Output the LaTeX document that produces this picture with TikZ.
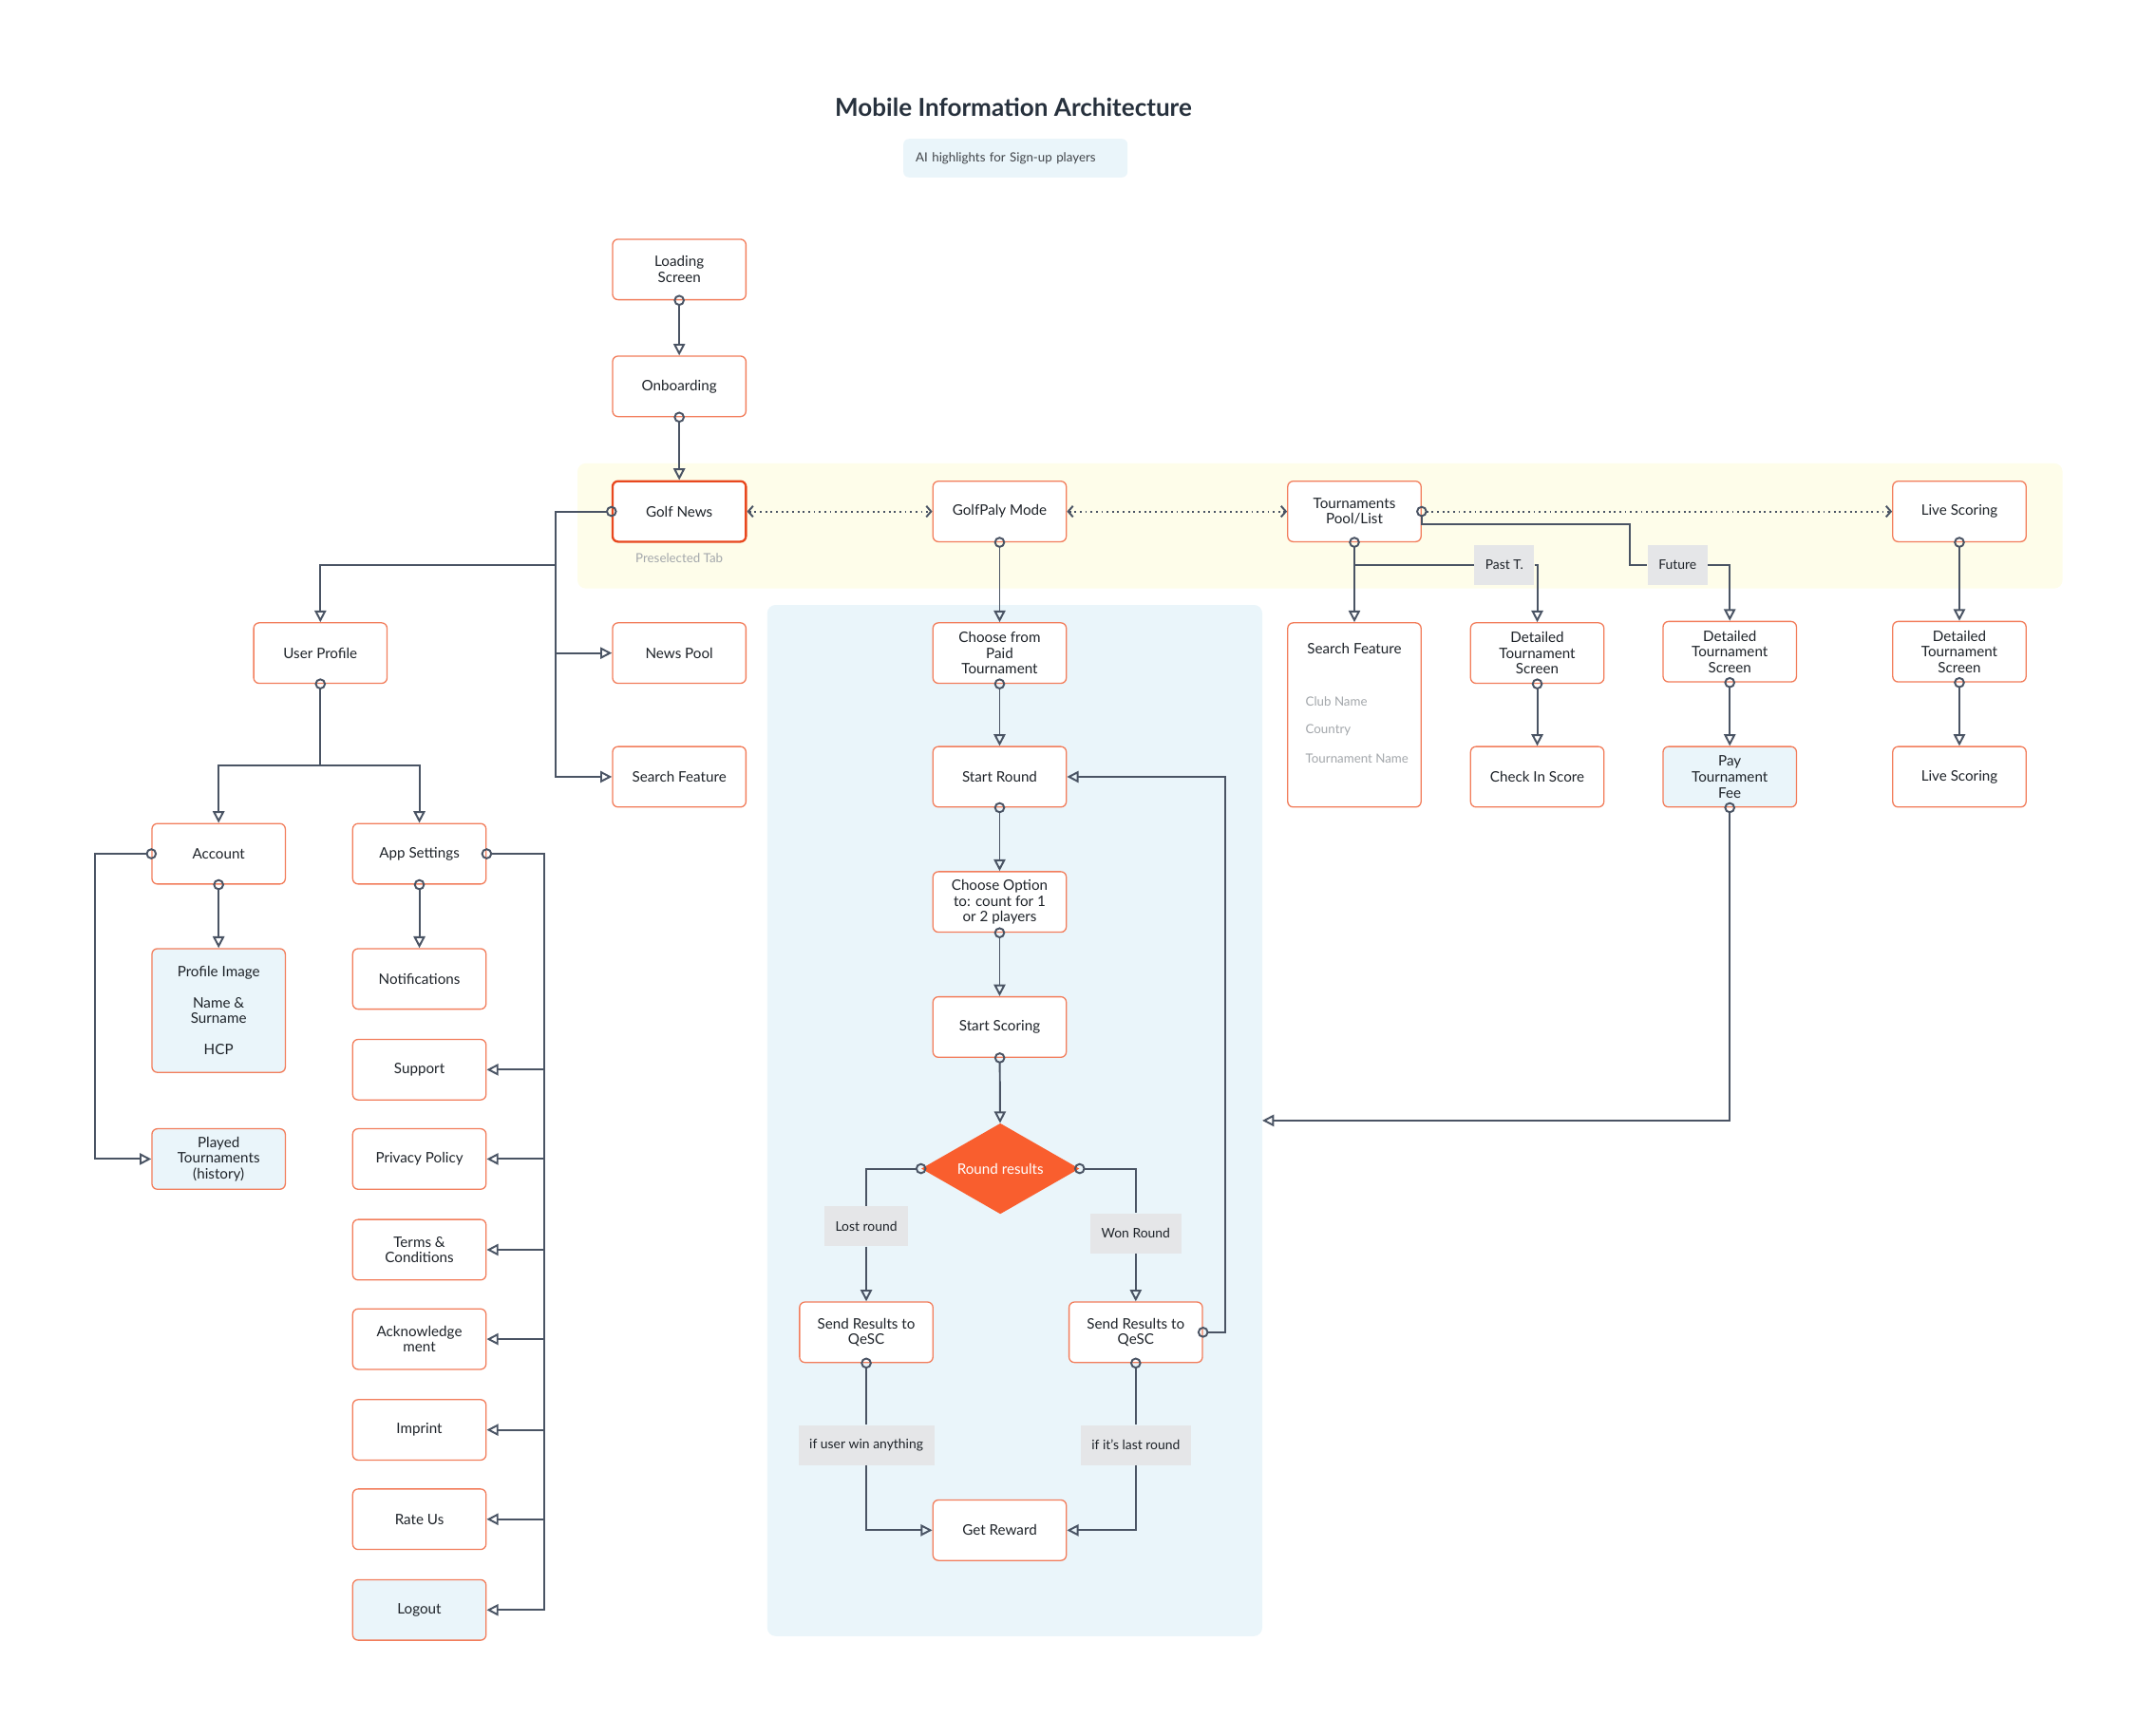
\documentclass[tikz,border=0pt]{standalone}
\usepackage{fontspec}
\setmainfont{Lato}
\usepackage{tikz}
\usetikzlibrary{arrows.meta,calc,positioning,shapes.geometric}
\usepackage{xcolor}
\definecolor{boxc}{HTML}{F27D5B}
\definecolor{hotc}{HTML}{E8481F}
\definecolor{linec}{HTML}{4A5464}
\definecolor{bandy}{HTML}{FEFDEA}
\definecolor{paneb}{HTML}{EAF5FA}
\definecolor{tagc}{HTML}{E5E6E8}
\definecolor{diac}{HTML}{F95E2E}
\definecolor{hintc}{HTML}{A3A7AB}
\definecolor{inkc}{HTML}{1E2329}
\definecolor{headc}{HTML}{27313D}
\tikzset{
  box/.style={draw=boxc, line width=0.9pt, rounded corners=4pt, fill=white,
    minimum width=97pt, minimum height=44pt, inner sep=2pt, align=center,
    text=inkc, font=\fontsize{10.5}{11.5}\selectfont},
  softbox/.style={box, fill=paneb},
  tag/.style={fill=tagc, inner xsep=8pt, minimum height=29pt, text=inkc,
    font=\fontsize{9.6}{10}\selectfont},
  hint/.style={text=hintc, font=\fontsize{9.2}{10}\selectfont},
  wire/.style={draw=linec, line width=1.35pt},
  link/.style={wire, {Circle[open,length=8pt,width=8pt]}-{Triangle[open,length=8.5pt,width=8.5pt]}, shorten <=-4pt},
  stem/.style={wire, {Circle[open,length=8pt,width=8pt]}-, shorten <=-4pt},
  tail/.style={wire, -{Triangle[open,length=8.5pt,width=8.5pt]}},
  tab/.style={wire, dash pattern=on 1.3pt off 2.6pt, {Straight Barb[length=3.5pt,width=8pt]}-{Straight Barb[length=3.5pt,width=8pt]}},
  tabc/.style={wire, dash pattern=on 1.3pt off 2.6pt, {Circle[open,length=8pt,width=8pt]}-{Straight Barb[length=3.5pt,width=8pt]}, shorten <=-4pt},
}
\begin{document}
\begin{tikzpicture}[x=1pt,y=-1pt]
\useasboundingbox (0,0) rectangle (1568,1262);
\fill[bandy, rounded corners=6pt] (420,337) rectangle (1500,428);
\fill[paneb, rounded corners=6pt] (558,440) rectangle (918,1190);

\node[text=headc, font=\fontsize{18}{20}\selectfont\bfseries] (title) at (737,78) {Mobile Information Architecture};
\node[fill=paneb, rounded corners=4pt, inner xsep=9pt, text width=145pt, minimum height=28pt, align=left,
  text=inkc!85, font=\fontsize{9.2}{10}\selectfont] (sub) at (738.5,115) {AI highlights for Sign-up players};

\node[box] (load) at (494,196) {Loading\\Screen};
\node[box] (onb) at (494,281) {Onboarding};
\node[box, draw=hotc, line width=1.6pt] (gnews) at (494,372) {Golf News};
\node[hint] (presel) at (494,406) {Preselected Tab};
\node[box] (gplay) at (727,372) {GolfPaly Mode};
\node[box] (tour) at (985,372) {Tournaments\\Pool/List};
\node[box] (lscore) at (1425,372) {Live Scoring};

\node[box] (uprof) at (233,475) {User Profile};
\node[box] (npool) at (494,475) {News Pool};
\node[box] (srch1) at (494,565) {Search Feature};
\node[box] (acct) at (159,621) {Account};
\node[box] (apps) at (305,621) {App Settings};
\node[softbox, minimum height=90pt] (pimg) at (159,735) {Profile Image\\[11pt]Name \&\\Surname\\[11pt]HCP};
\node[softbox] (played) at (159,843) {Played\\Tournaments\\(history)};
\node[box] (notif) at (305,712) {Notifications};
\node[box] (support) at (305,778) {Support};
\node[box] (privacy) at (305,843) {Privacy Policy};
\node[box] (terms) at (305,909) {Terms \&\\Conditions};
\node[box] (ack) at (305,974) {Acknowledge\\ment};
\node[box] (imprint) at (305,1040) {Imprint};
\node[box] (rate) at (305,1105) {Rate Us};
\node[softbox] (logout) at (305,1171) {Logout};

\node[box] (choose) at (727,475) {Choose from\\Paid\\Tournament};
\node[box] (sround) at (727,565) {Start Round};
\node[box] (option) at (727,656) {Choose Option\\to: count for 1\\or 2 players};
\node[box] (sscore) at (727,747) {Start Scoring};
\node[diamond, fill=diac, aspect=1.75, inner sep=0pt, minimum width=115pt, minimum height=66pt,
  text=white, font=\fontsize{10.5}{12}\selectfont] (rres) at (727.5,850) {Round results};
\node[tag] (lost) at (630,892) {Lost round};
\node[tag] (won) at (826,897) {Won Round};
\node[box] (send1) at (630,969) {Send Results to\\QeSC};
\node[box] (send2) at (826,969) {Send Results to\\QeSC};
\node[tag] (ifwin) at (630,1051) {if user win anything};
\node[tag] (iflast) at (826,1051) {if it's last round};
\node[box] (reward) at (727,1113) {Get Reward};

\node[box, minimum height=134pt] (srch2) at (985,520) {};
\node[text=inkc, font=\fontsize{10.5}{11.5}\selectfont] (srchT) at (985,472) {Search Feature};
\node[hint, anchor=west] (club) at (946,510) {Club Name};
\node[hint, anchor=west] (ctry) at (946,531) {Country};
\node[hint, anchor=west] (tname) at (946,552) {Tournament Name};
\node[box] (det1) at (1118,475) {Detailed\\Tournament\\Screen};
\node[box] (checkin) at (1118,565) {Check In Score};
\node[tag] (past) at (1094,411) {Past T.};
\node[tag] (fut) at (1220,411) {Future};
\node[box] (det2) at (1258,474) {Detailed\\Tournament\\Screen};
\node[softbox] (pay) at (1258,565) {Pay\\Tournament\\Fee};
\node[box] (det3) at (1425,474) {Detailed\\Tournament\\Screen};
\node[box] (live2) at (1425,565) {Live Scoring};

\coordinate (gnj) at (404,372);
\coordinate (ubus) at (233,557);
\coordinate (abus) at (69,621);
\coordinate (sbus) at (396,621);
\coordinate (loop) at (891,969);
\coordinate (feein) at (918,815);
\coordinate (fbend) at (1185,381);

\draw[link] (load) -- (onb);
\draw[link] (onb) -- (gnews);
\draw[tab] (gnews) -- (gplay);
\draw[tab] (gplay) -- (tour);
\draw[tabc] (tour.east) -- (lscore.west);

\draw[link] (gnews.west) -- (gnj) |- (srch1.west);
\draw[tail] (gnj |- npool.west) -- (npool.west);
\draw[tail] (gnj |- 0,411) -| (uprof.north);
\draw[link] (uprof.south) -- (ubus) -| (acct.north);
\draw[tail] (ubus) -| (apps.north);
\draw[link] (acct) -- (pimg);
\draw[link] (acct.west) -- (abus) |- (played.west);
\draw[link] (apps) -- (notif);
\draw[link] (apps.east) -- (sbus) |- (logout.east);
\foreach \n in {support,privacy,terms,ack,imprint,rate}
  \draw[tail] (sbus |- \n.east) -- (\n.east);

\draw[link] (gplay) -- (choose);
\draw[link] (choose) -- (sround);
\draw[link] (sround) -- (option);
\draw[link] (option) -- (sscore);
\draw[link] (sscore) -- (rres);
\draw[stem] (rres.west) -| (lost.north);
\draw[tail] (lost) -- (send1);
\draw[stem] (rres.east) -| (won.north);
\draw[tail] (won) -- (send2);
\draw[stem] (send1.south) -- (ifwin.north);
\draw[tail] (ifwin.south) |- (reward.west);
\draw[stem] (send2.south) -- (iflast.north);
\draw[tail] (iflast.south) |- (reward.east);
\draw[link] (send2.east) -- (loop) |- (sround.east);

\draw[link] (tour.south) -- (srch2.north);
\draw[wire] (tour.south |- past.west) -- (past.west);
\draw[tail] (past.east) -| (det1.north);
\draw[wire] ($(tour.east)+(0,4)$) |- (fbend) |- (fut.west);
\draw[tail] (fut.east) -| (det2.north);
\draw[link] (det1) -- (checkin);
\draw[link] (det2) -- (pay);
\draw[link] (pay.south) |- (feein);
\draw[link] (lscore) -- (det3);
\draw[link] (det3) -- (live2);
\end{tikzpicture}
\end{document}
